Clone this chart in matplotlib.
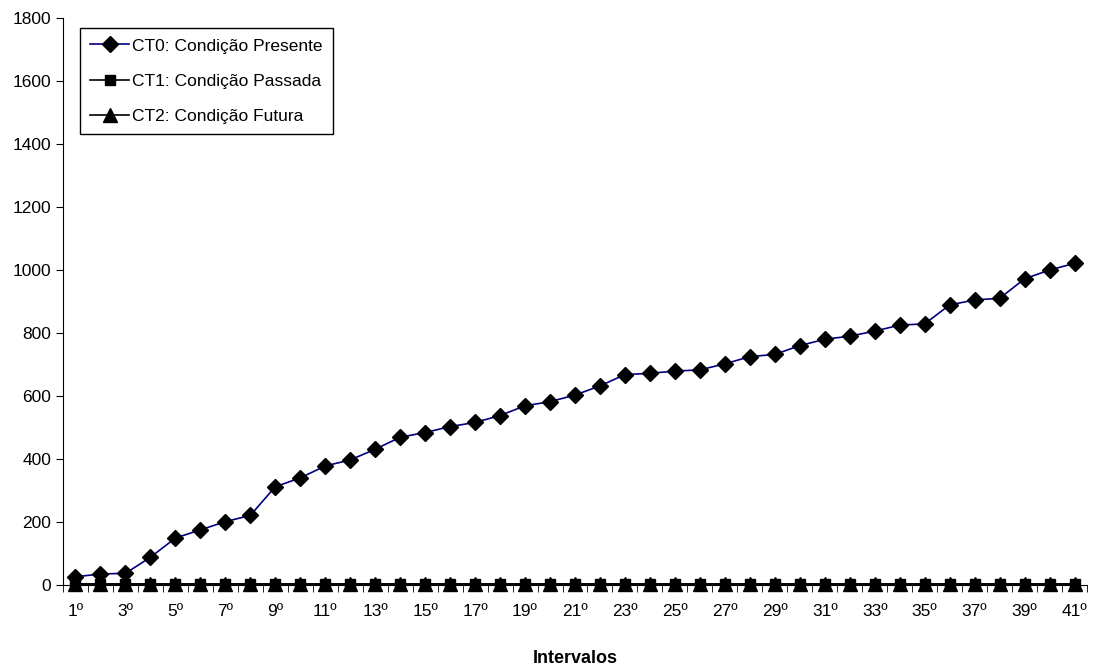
import matplotlib
matplotlib.use("Agg")
import matplotlib.pyplot as plt
import numpy as np

plt.rcParams['font.family'] = ['Liberation Sans', 'DejaVu Sans']

categories = [f"{i}º" for i in range(1, 42)]
ct0 = [26, 35, 37, 88, 149, 175, 201, 221, 312, 340, 378, 397, 431, 469, 484,
       503, 516, 538, 569, 582, 603, 632, 668, 672, 679, 683, 702, 725, 732, 760,
       780, 790, 806, 825, 829, 889, 905, 910, 972, 1000, 1021]
ct1 = [4] * 41
ct2 = [4] * 41
labels = ["CT0: Condição Presente", "CT1: Condição Passada", "CT2: Condição Futura"]

fig = plt.figure(figsize=(10.93, 6.72), dpi=100)
ax = fig.add_axes([63/1093, 1-585/672, (1087-63)/1093, (585-18)/672])

x = np.arange(len(categories))
ax.plot(x, ct0, color='#000080', lw=1.2, marker='D', ms=8, mfc='black', mec='black',
        label=labels[0], clip_on=False, zorder=4)
ax.plot(x, ct1, color='black', lw=1.2, marker='s', ms=7, mfc='black', mec='black',
        label=labels[1], clip_on=False, zorder=3)
ax.plot(x, ct2, color='black', lw=1.2, marker='^', ms=10, mfc='black', mec='black',
        label=labels[2], clip_on=False, zorder=3.5)

ax.set_xlim(-0.5, len(categories) - 0.5)
ax.set_ylim(0, 1800)
ax.set_yticks(range(0, 1801, 200))
ax.set_yticklabels([str(v) for v in range(0, 1801, 200)], fontsize=12.5)
ax.set_xticks(x[::2])
ax.set_xticklabels(categories[::2], fontsize=12.5)
ax.set_xticks(np.arange(-0.5, len(categories), 1), minor=True)
ax.tick_params(axis='x', which='major', length=0, pad=14)
ax.tick_params(axis='x', which='minor', length=5, direction='out')
ax.tick_params(axis='y', length=5, direction='out')
for s in ['top', 'right']:
    ax.spines[s].set_visible(False)
ax.set_xlabel("Intervalos", fontsize=13, fontweight='bold', labelpad=22)

leg = ax.legend(loc='upper left', bbox_to_anchor=(17/1024, 1-10/567), fontsize=12.5,
                frameon=True, fancybox=False, edgecolor='black', framealpha=1,
                handlelength=2.2, borderpad=0.6, labelspacing=1.15, handletextpad=0.2,
                borderaxespad=0)
leg.get_frame().set_linewidth(1.0)

fig.savefig("out.png", dpi=100)
